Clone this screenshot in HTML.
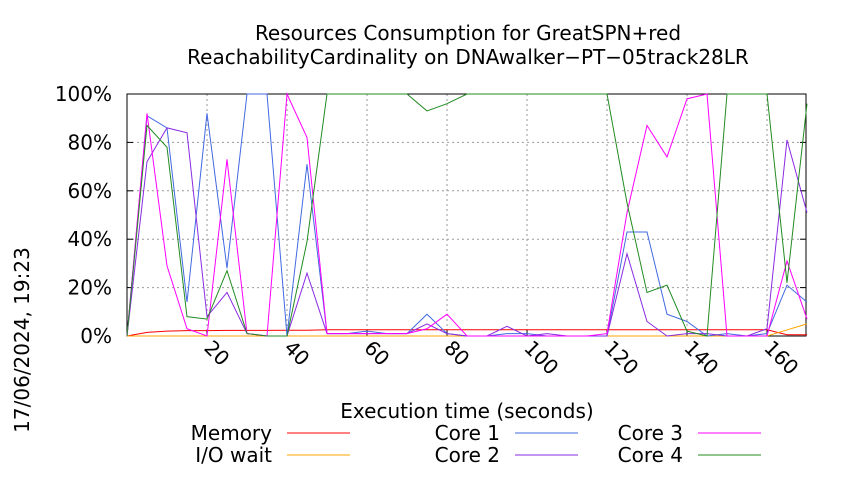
<!DOCTYPE html>
<html><head><meta charset="utf-8"><style>
body{margin:0;background:#fff}
svg{font-family:"DejaVu Sans","Liberation Sans",sans-serif}
</style></head><body>
<svg width="850" height="475" xmlns="http://www.w3.org/2000/svg">
<g id="grid"></g>
<g id="axes"></g>
<g id="series"></g>
<text x="468" y="40" font-size="20" text-anchor="middle">Resources Consumption for GreatSPN+red</text>
<text x="468" y="64" font-size="20" text-anchor="middle">ReachabilityCardinality on DNAwalker−PT−05track28LR</text>
<text x="467" y="418" font-size="20" text-anchor="middle">Execution time (seconds)</text>
<text transform="translate(29,340) rotate(-90)" font-size="20" text-anchor="middle">17/06/2024, 19:23</text>
<g id="legend"></g>
</svg>
<script>
const times=[0,5,10,15,20,25,30,35,40,45,50,55,60,65,70,75,80,85,90,95,100,105,110,115,120,125,130,135,140,145,150,155,160,165,170];
const memory=[0,1.5,2,2.2,2.2,2.3,2.3,2.3,2.4,2.4,2.6,2.6,2.6,2.6,2.6,2.6,2.6,2.6,2.6,2.6,2.6,2.6,2.6,2.6,2.6,2.6,2.6,2.6,2.6,2.6,2.6,2.6,2.6,0.5,0.5];
const ioWait=[0,0,0,0,0,0,0,0,0,0,0,0,0,0,0,0,0,0,0,0,0,0,0,0,0,0,0,0,0,0,0,0,0,2.5,5];
const core1=[0,91,86,14,92,28,100,100,0,71,1,1,2,1,1,9,1,0,0,1,1,0,0,0,0,43,43,9,6,0,1,0,1,21,14];
const core2=[0,72,86,84,8,18,1,0,0,26,1,1,1,1,1,5,1,0,0,4,0,1,0,0,0,34,6,0,1,1,0,0,3,81,51];
const core3=[0,92,29,3,0,73,1,0,100,82,1,1,1,1,1,3,9,0,0,0,0,0,0,0,1,51,87,74,98,100,0,0,0,31,7];
const core4=[0,87,78,8,7,27,1,0,0,39,100,100,100,100,100,93,96,100,100,100,100,100,100,100,100,55,18,21,2,0,100,100,100,22,96];
const yTicks=[0,20,40,60,80,100];
const xTicks=[20,40,60,80,100,120,140,160];
const seriesNames=["Memory","I/O wait","Core 1","Core 2","Core 3","Core 4"];
const seriesColors=["#ff0000","#ffa500","#4169e1","#8a2be2","#ff00ff","#228b22"];
const seriesData=[memory,ioWait,core1,core2,core3,core4];
const X0=127,X1=806,Y0=336,Y1=94;
function sx(t){return X0+(t-0)*(X1-X0)/169.75;}
function sy(v){return Y0-v*(Y0-Y1)/100;}
const NS="http://www.w3.org/2000/svg";
function mk(tag,parent,attrs){const e=document.createElementNS(NS,tag);for(const k in attrs)e.setAttribute(k,attrs[k]);parent.appendChild(e);return e;}
const grid=document.getElementById('grid'),axes=document.getElementById('axes'),ser=document.getElementById('series'),leg=document.getElementById('legend');
yTicks.forEach(v=>{
 if(v>0){const g=mk('line',grid,{x1:X0,x2:X1,y1:sy(v),y2:sy(v),stroke:'#999','stroke-dasharray':'2,3','stroke-width':1});
 
 }
 const tk=mk('line',axes,{x1:X0,x2:X0+6,y1:sy(v),y2:sy(v),stroke:'#000'});
 
 
 const tk2=mk('line',axes,{x1:X1-6,x2:X1,y1:sy(v),y2:sy(v),stroke:'#000'});
 
 
 const t=mk('text',axes,{x:112,y:sy(v)+7,'font-size':20,'text-anchor':'end'});t.textContent=v+'%';
 
 
});
xTicks.forEach(v=>{
 const g=mk('line',grid,{x1:sx(v),x2:sx(v),y1:Y1,y2:Y0,stroke:'#999','stroke-dasharray':'2,3','stroke-width':1});
 
 
 const tk=mk('line',axes,{x1:sx(v),x2:sx(v),y1:Y0-6,y2:Y0,stroke:'#000'});
 
 
 const t=mk('text',axes,{transform:`translate(${sx(v)-4},${Y0+13}) rotate(45)`,'font-size':20});t.textContent=v;
 
 
});
const fr=mk('rect',axes,{x:X0,y:Y1,width:X1-X0,height:Y0-Y1,fill:'none',stroke:'#000','stroke-width':1});


seriesData.forEach((d,i)=>{
 const p=mk('polyline',ser,{points:d.map((v,j)=>sx(times[j])+','+sy(v)).join(' '),fill:'none',stroke:seriesColors[i],'stroke-width':1});
 
 
});
const lx=[272,272,500,500,683,683],ly=[433,455,433,455,433,455];
seriesNames.forEach((n,i)=>{
 const t=mk('text',leg,{x:lx[i],y:ly[i]+7,'font-size':20,'text-anchor':'end'});t.textContent=n;
 
 
 const l=mk('line',leg,{x1:lx[i]+15,x2:lx[i]+78,y1:ly[i],y2:ly[i],stroke:seriesColors[i],'stroke-width':1});
 
 
});
</script>
</body></html>
